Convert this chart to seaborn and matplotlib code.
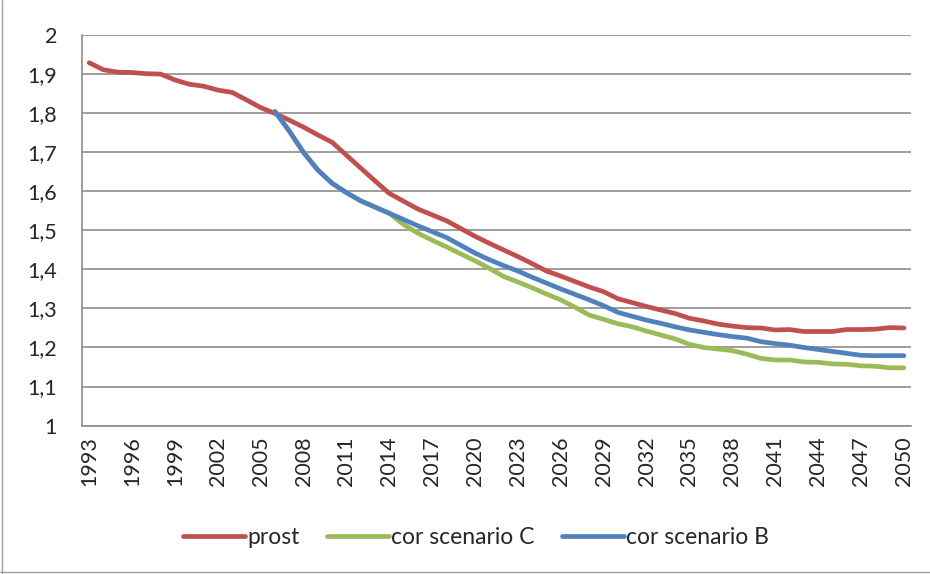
import numpy as np
import pandas as pd
import seaborn as sns
import matplotlib.pyplot as plt
from matplotlib.ticker import FixedLocator, FuncFormatter
from matplotlib.lines import Line2D

years = list(range(1993, 2051))
years_proj = list(range(2006, 2051))

prost = [1.930, 1.912, 1.906, 1.905, 1.902, 1.901, 1.886, 1.875, 1.870, 1.860,
         1.854, 1.835, 1.815, 1.800, 1.783, 1.765, 1.745, 1.726, 1.693, 1.660,
         1.627, 1.595, 1.575, 1.555, 1.540, 1.525, 1.505, 1.485, 1.467, 1.450,
         1.433, 1.415, 1.396, 1.383, 1.369, 1.355, 1.343, 1.325, 1.315, 1.305,
         1.296, 1.287, 1.275, 1.268, 1.260, 1.255, 1.251, 1.250, 1.245, 1.246,
         1.241, 1.241, 1.241, 1.246, 1.246, 1.247, 1.251, 1.250]

scen_c = [1.805, 1.755, 1.700, 1.655, 1.621, 1.597, 1.576, 1.560, 1.544, 1.515,
          1.493, 1.475, 1.458, 1.440, 1.422, 1.403, 1.382, 1.368, 1.353, 1.337,
          1.322, 1.303, 1.283, 1.272, 1.261, 1.253, 1.242, 1.232, 1.222, 1.208,
          1.200, 1.196, 1.192, 1.183, 1.172, 1.168, 1.168, 1.163, 1.162, 1.158,
          1.157, 1.153, 1.152, 1.148, 1.148]

scen_b = [1.805, 1.755, 1.700, 1.655, 1.621, 1.597, 1.576, 1.560, 1.544, 1.528,
          1.512, 1.497, 1.482, 1.462, 1.442, 1.425, 1.410, 1.396, 1.380, 1.365,
          1.350, 1.336, 1.322, 1.307, 1.290, 1.280, 1.270, 1.262, 1.253, 1.245,
          1.239, 1.233, 1.228, 1.224, 1.215, 1.210, 1.206, 1.200, 1.195, 1.190,
          1.185, 1.180, 1.179, 1.179, 1.179]

series_names = ['prost', 'cor scenario C', 'cor scenario B']
series_colors = ['#C0504D', '#9BBB59', '#4F81BD']

df = pd.concat([
    pd.DataFrame({'year': years, 'value': prost, 'series': series_names[0]}),
    pd.DataFrame({'year': years_proj, 'value': scen_c, 'series': series_names[1]}),
    pd.DataFrame({'year': years_proj, 'value': scen_b, 'series': series_names[2]}),
])

sns.set_style("white")
plt.rcParams['font.family'] = ['Lato', 'DejaVu Sans']

fig = plt.figure(figsize=(9.3, 5.74), dpi=100)
ax = fig.add_axes([0.0882, 0.2587, 0.8914, 0.6795])

sns.lineplot(data=df, x='year', y='value', hue='series', hue_order=series_names,
             palette=series_colors, linewidth=3.4, ax=ax, legend=False,
             solid_capstyle='round')

grid_c = '#8c8c8c'
ax.set_xlim(1992.5, 2050.5)
ax.set_ylim(1, 2)
ax.set_yticks(np.arange(1, 2.01, 0.1))
ax.yaxis.set_major_formatter(FuncFormatter(lambda v, p: ('%g' % round(v, 1)).replace('.', ',')))
ax.set_xticks(years[::3])
ax.xaxis.set_minor_locator(FixedLocator(np.arange(1992.5, 2051, 1)))
ax.tick_params(axis='x', which='major', length=0, pad=8, labelrotation=90, labelsize=15.5)
ax.tick_params(axis='x', which='minor', length=5, width=1.2, color=grid_c, direction='out')
ax.tick_params(axis='y', length=7, width=1.2, color=grid_c, direction='out', pad=11, labelsize=15.5)
ax.grid(axis='y', color=grid_c, linewidth=1.2)
ax.set_axisbelow(True)
for s in ['top', 'right']:
    ax.spines[s].set_visible(False)
for s in ['left', 'bottom']:
    ax.spines[s].set_color(grid_c)
    ax.spines[s].set_linewidth(1.2)
ax.set_xlabel('')
ax.set_ylabel('')

handles = [Line2D([0], [0], color=c, linewidth=3.4, solid_capstyle='round') for c in series_colors]
fig.legend(handles, series_names, loc='center', bbox_to_anchor=(0.512, 0.064), ncol=3,
           frameon=False, fontsize=16.5, handlelength=2.7, handletextpad=0.1,
           columnspacing=1.2)

fig.add_artist(Line2D([0.002, 0.002], [0, 1], transform=fig.transFigure, color='#a0a0a0', linewidth=1))
fig.add_artist(Line2D([0, 1], [0.003, 0.003], transform=fig.transFigure, color='#a0a0a0', linewidth=1))

fig.savefig('out.png', dpi=100)
